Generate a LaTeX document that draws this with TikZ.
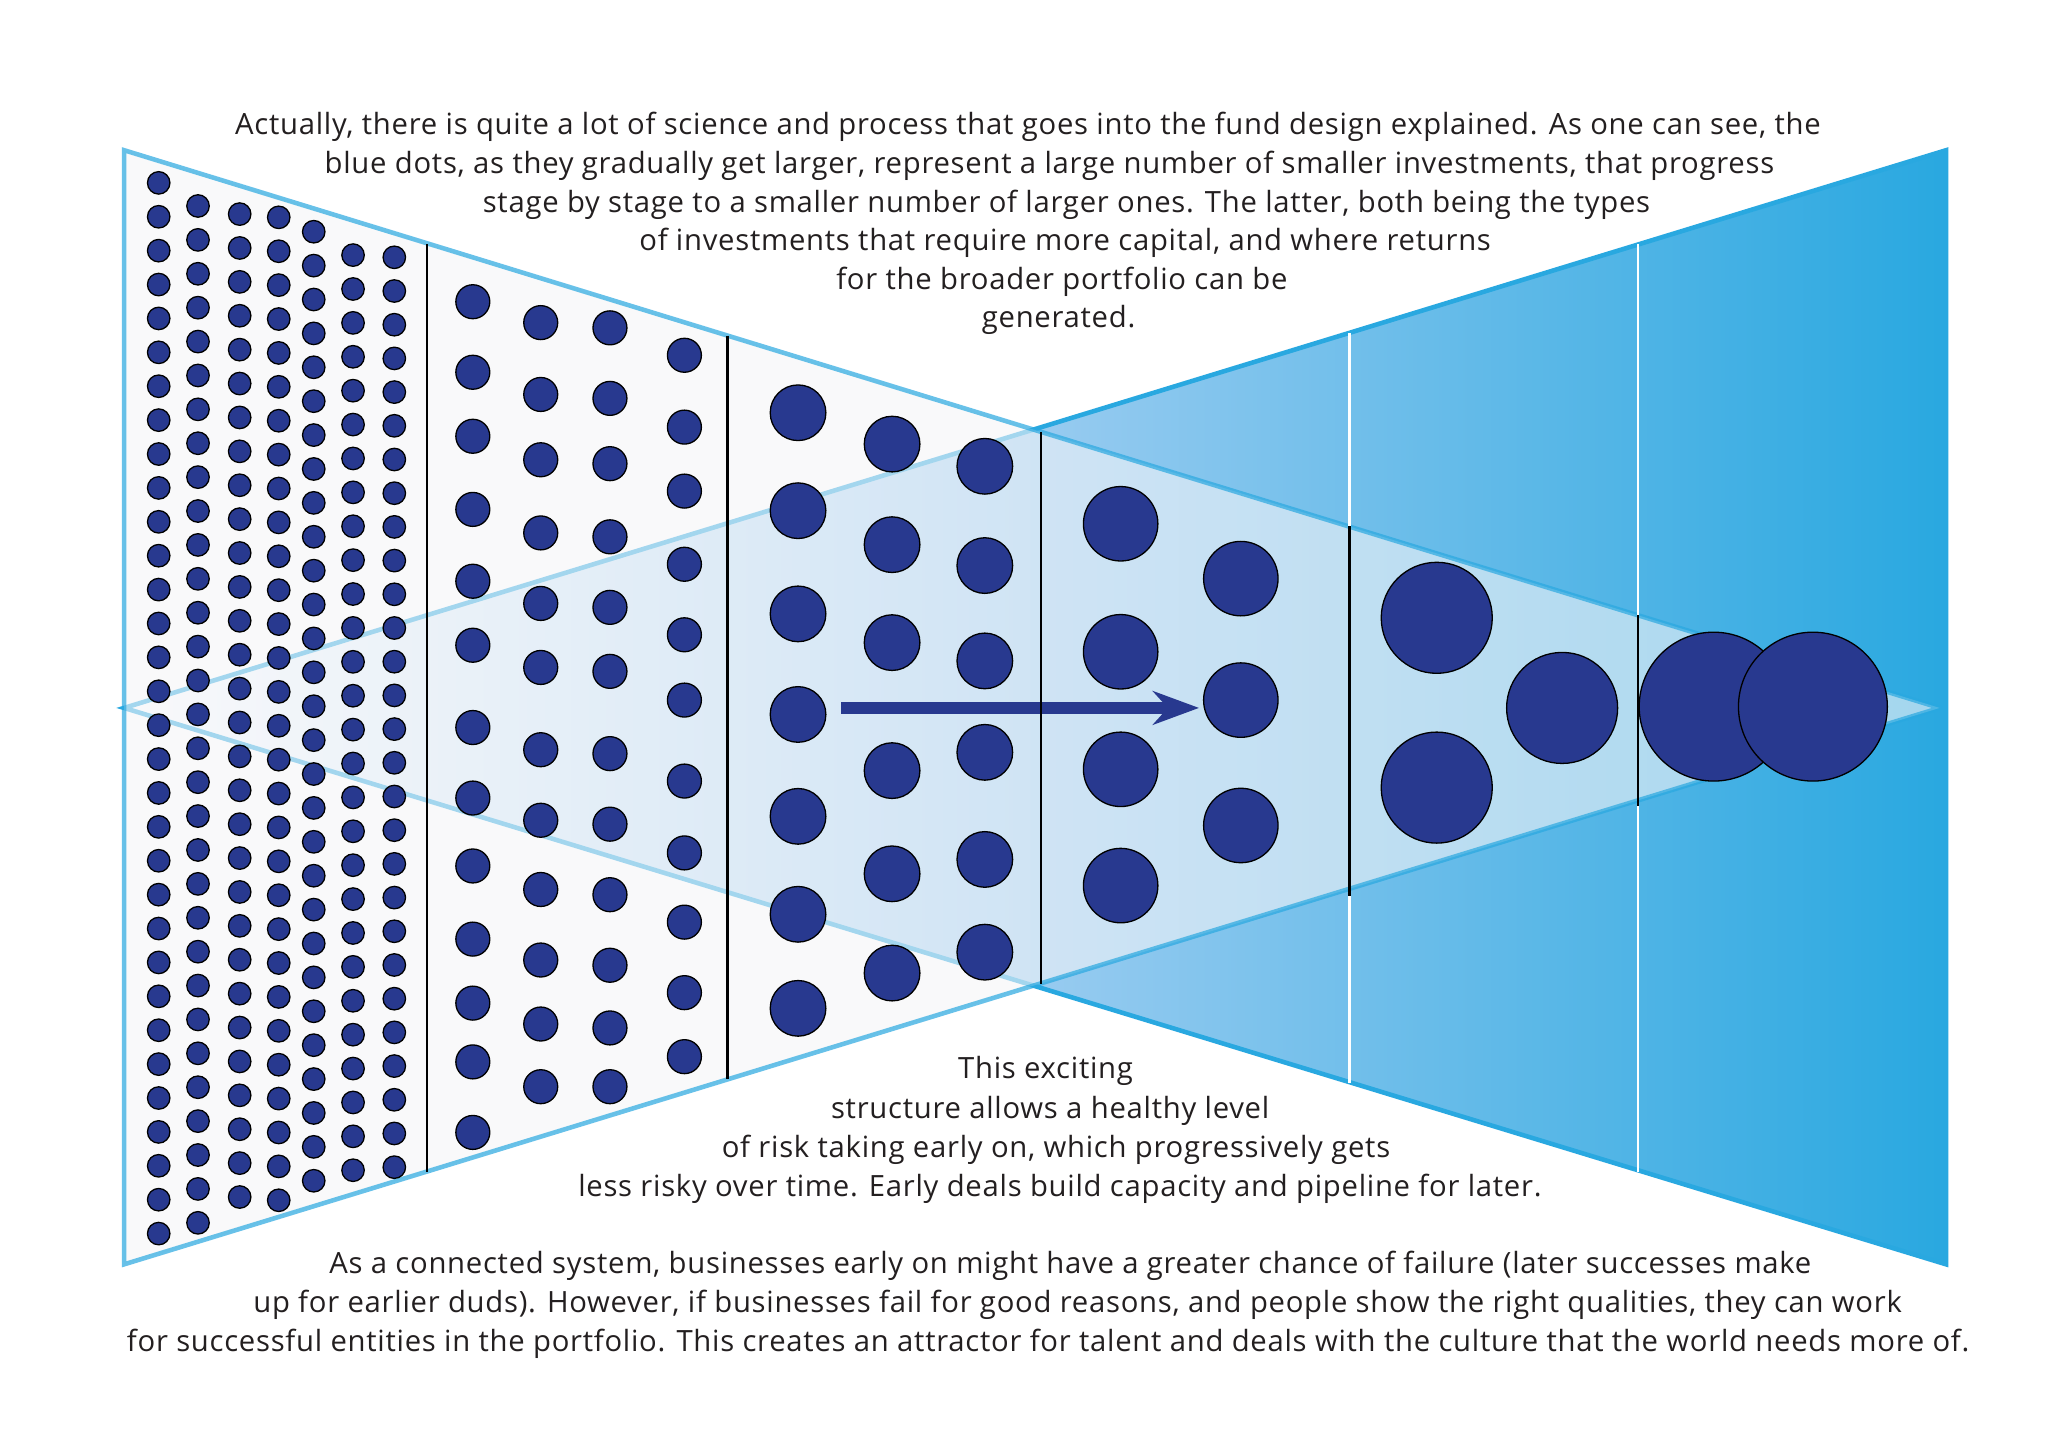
\documentclass[tikz,border=0pt]{standalone}
\usepackage{fontspec}
\newfontfamily\blurbfont[LetterSpace=2.5]{Open Sans}
\usetikzlibrary{arrows.meta}

\definecolor{dotblue}{RGB}{40,57,143}
\definecolor{skyblue}{RGB}{41,168,224}
\definecolor{paleblue}{RGB}{152,203,240}
\definecolor{funnelfill}{RGB}{245,245,248}
\definecolor{inktext}{RGB}{35,31,32}

\tikzset{
  stakedot/.style={fill=dotblue, draw=black, line width=0.5pt},
  divider/.style={draw=black, line width=1pt},
  gapline/.style={draw=white, line width=1pt},
  blurb/.style={anchor=base, inner sep=0pt, text=inktext, font=\blurbfont\fontsize{11.2}{13}\selectfont},
}

\begin{document}
\begin{tikzpicture}[x=0.5pt,y=0.5pt,yscale=-1,xscale=1]
\useasboundingbox (0,0) rectangle (1568,1109);
\fill[white] (0,0) rectangle (1568,1109);

%Shape: widening wedge
\draw[left color=white, right color=skyblue, middle color=paleblue, draw=skyblue, line width=1.75pt] (95,542) -- (1490,115) -- (1490,968) -- cycle;
%Shape: narrowing funnel
\draw[fill=funnelfill, fill opacity=0.6, draw=skyblue, draw opacity=0.7, line width=1.75pt] (95,115) -- (1485,542) -- (95,968) -- cycle;

%Stage lines outside the funnel
\draw[gapline] (1033,255) -- (1033,829);
\draw[gapline] (1254,187) -- (1254,897);

%Arrow
\coordinate (flowstart) at (644,542);
\coordinate (flowend) at (918,542);
\draw[dotblue, line width=4.6pt, -{Stealth[length=17.6pt, width=12.8pt, inset=5.7pt]}] (flowstart) -- (flowend);

%Stage lines
\draw[divider] (327,187) -- (327,897);
\draw[divider] (557,257) -- (557,826);
\draw[divider] (797,331) -- (797,753);
\draw[divider] (1033,403) -- (1033,686);
\draw[divider] (1254,471) -- (1254,617);

%Stage 1 dots
\foreach \cx/\cy/\n/\dy in {121.5/140/31/25.95, 151.6/157.7/30/25.95, 183.5/163.9/29/25.95, 213.4/166.4/29/25.95, 240.2/177.4/28/25.95, 270.3/195.3/27/25.95, 301.9/197/27/25.8}
  \foreach \i in {0,...,\n}
    \path[stakedot] (\cx,{\cy+\dy*\i}) circle (8.6);

%Stage 2 dots
\foreach \cx/\ys in {362/{231,285,334,390,445,494,557,611,663,719,768,813,867}, 414/{247,302,352,408,462,511,574,628,681,735,784,832}, 467/{251,305,355,411,465,514,577,631,685,739,787,832}, 524/{272,327,376,432,486,536,598,653,706,760,809}}
  \foreach \cy in \ys
    \path[stakedot] (\cx,\cy) circle (13);

%Stage 3 dots
\foreach \cx/\ys in {611/{316,391,470,547,625,700,772}, 683/{340,417,492,590,669,745}, 754/{357,433,506,576,658,729}}
  \foreach \cy in \ys
    \path[stakedot] (\cx,\cy) circle (21.3);

%Stage 4 dots
\foreach \cx/\ys in {858/{401,499,589,678}, 950/{443,536,632}}
  \foreach \cy in \ys
    \path[stakedot] (\cx,\cy) circle (28.5);

%Stage 5 and 6 dots
\path[stakedot] (1100,473) circle (42.5);
\path[stakedot] (1100,603) circle (42.5);
\path[stakedot] (1196,542) circle (42.5);
\path[stakedot] (1312,541) circle (57);
\path[stakedot] (1388,541) circle (57);

% Text Node
\node[blurb] (intro1) at (787,103) {Actually, there is quite a lot of science and process that goes into the fund design explained. As one can see, the};
\node[blurb] (intro2) at (803.5,133) {blue dots, as they gradually get larger, represent a large number of smaller investments, that progress};
\node[blurb] (intro3) at (816.5,163) {stage by stage to a smaller number of larger ones. The latter, both being the types};
\node[blurb] (intro4) at (815.5,192) {of investments that require more capital, and where returns};
\node[blurb] (intro5) at (813,222) {for the broader portfolio can be};
\node[blurb] (intro6) at (810.5,251) {generated.};
% Text Node
\node[blurb] (risk1) at (800.5,826) {This exciting};
\node[blurb] (risk2) at (804,856) {structure allows a healthy level};
\node[blurb] (risk3) at (808.5,886) {of risk taking early on, which progressively gets};
\node[blurb] (risk4) at (811.5,916) {less risky over time. Early deals build capacity and pipeline for later.};
% Text Node
\node[blurb] (system1) at (819.5,975) {As a connected system, businesses early on might have a greater chance of failure (later successes make};
\node[blurb] (system2) at (825,1005) {up for earlier duds). However, if businesses fail for good reasons, and people show the right qualities, they can work};
\node[blurb] (system3) at (802.5,1035) {for successful entities in the portfolio. This creates an attractor for talent and deals with the culture that the world needs more of.};

\end{tikzpicture}
\end{document}
